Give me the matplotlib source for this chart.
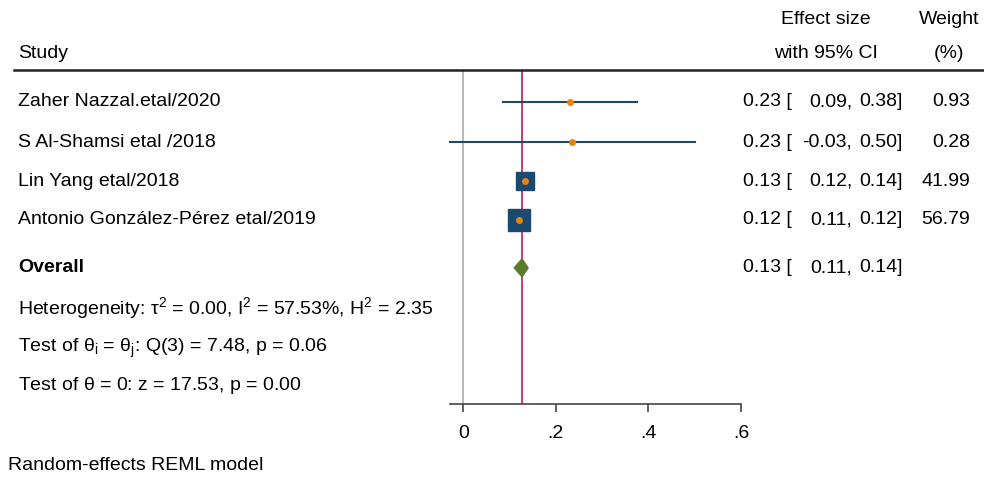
import numpy as np
import matplotlib
matplotlib.use("Agg")
import matplotlib.pyplot as plt
from matplotlib.patches import Polygon

plt.rcParams['font.family'] = ['Liberation Sans', 'DejaVu Sans']

# ---- data ----
studies = ["Zaher Nazzal.etal/2020", "S Al-Shamsi etal /2018",
           "Lin Yang etal/2018", "Antonio González-Pérez etal/2019"]
es = [0.231, 0.234, 0.133, 0.120]
lo = [0.086, -0.029, 0.120, 0.110]
hi = [0.376, 0.501, 0.140, 0.120]
weights = [0.93, 0.28, 41.99, 56.79]
overall_es = 0.127
overall_lo = 0.110
overall_hi = 0.140
stats_lines = [r"Heterogeneity: $\mathregular{\tau^2}$ = 0.00, $\mathregular{I^2}$ = 57.53%, $\mathregular{H^2}$ = 2.35",
               r"Test of $\mathregular{\theta_i}$ = $\mathregular{\theta_j}$: Q(3) = 7.48, p = 0.06",
               r"Test of $\mathregular{\theta}$ = 0: z = 17.53, p = 0.00"]
xticks = [0, 0.2, 0.4, 0.6]
xticklabels = ["0", ".2", ".4", ".6"]

W, H = 984, 479
fig = plt.figure(figsize=(W / 100, H / 100), dpi=100)

def fx(px):
    return px / W

def fy(py):
    return 1 - py / H

# plot panel (pixel box: x 450..741, y 70..404)
ax = fig.add_axes([fx(450), fy(404), fx(741) - fx(450), fy(70) - fy(404)])
ax.set_xlim(-0.0287, 0.6)
ax.set_ylim(8.56, 0)
for s in ["top", "right", "left"]:
    ax.spines[s].set_visible(False)
ax.spines["bottom"].set_color("#444444")
ax.spines["bottom"].set_linewidth(1.2)
ax.set_yticks([])
ax.set_xticks(xticks)
ax.set_xticklabels(xticklabels, fontsize=14)
ax.tick_params(axis="x", length=6, width=1.2, color="#444444", pad=9)

row_y = [0.82, 1.85, 2.85, 3.85]
overall_y = 5.07

navy = "#1b4a70"
orange = "#e8830e"
ax.axvline(0, color="#aaaaaa", lw=1.2, zorder=1)
ax.axvline(overall_es, color="#d8245c", lw=1.3, zorder=2)

for i in range(len(studies)):
    ax.plot([lo[i], hi[i]], [row_y[i], row_y[i]], color=navy, lw=1.5, zorder=3, clip_on=False)
    ax.plot(es[i], row_y[i], marker="s", color=navy, ms=2.05 * np.sqrt(weights[i]),
            ls="none", zorder=4)
    ax.plot(es[i], row_y[i], marker="o", color=orange, ms=4, ls="none", zorder=5)

dia = Polygon([[overall_lo, overall_y], [overall_es, overall_y - 0.23],
               [overall_hi, overall_y], [overall_es, overall_y + 0.23]],
              closed=True, color="#5a7a2c", zorder=4)
ax.add_patch(dia)

# ---- table text ----
fs = 14
fig.text(fx(18), fy(53), "Study", fontsize=fs, va="center", ha="left")
fig.text(fx(826), fy(20), "Effect size", fontsize=fs, va="center", ha="center")
fig.text(fx(826), fy(53), "with 95% CI", fontsize=fs, va="center", ha="center")
fig.text(fx(949), fy(20), "Weight", fontsize=fs, va="center", ha="center")
fig.text(fx(949), fy(53), "(%)", fontsize=fs, va="center", ha="center")
fig.add_artist(plt.Line2D([fx(14), 1], [fy(70), fy(70)], color="#222222", lw=1.8))

row_px = [102, 142, 181, 220]
for i in range(len(studies)):
    y = fy(row_px[i])
    fig.text(fx(18), y, studies[i], fontsize=fs, va="center", ha="left")
    fig.text(fx(792), y, f"{es[i]:.2f} [", fontsize=fs, va="center", ha="right")
    fig.text(fx(852), y, f"{lo[i]:.2f},", fontsize=fs, va="center", ha="right")
    fig.text(fx(903), y, f"{hi[i]:.2f}]", fontsize=fs, va="center", ha="right")
    fig.text(fx(970), y, f"{weights[i]:.2f}", fontsize=fs, va="center", ha="right")

y = fy(268)
fig.text(fx(18), y, "Overall", fontsize=fs, va="center", ha="left", fontweight="bold")
fig.text(fx(792), y, f"{overall_es:.2f} [", fontsize=fs, va="center", ha="right")
fig.text(fx(852), y, f"{overall_lo:.2f},", fontsize=fs, va="center", ha="right")
fig.text(fx(903), y, f"{overall_hi:.2f}]", fontsize=fs, va="center", ha="right")

for py, line in zip([308, 348, 385], stats_lines):
    fig.text(fx(18), fy(py), line, fontsize=fs, va="center", ha="left")

fig.text(fx(8), fy(465), "Random-effects REML model", fontsize=fs, va="center", ha="left")

fig.savefig("out.png", dpi=100)
